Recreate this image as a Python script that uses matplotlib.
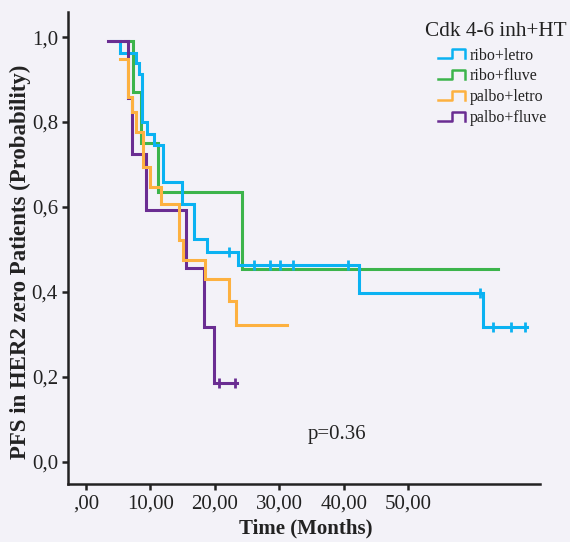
import matplotlib
matplotlib.use("Agg")
import matplotlib.pyplot as plt
from matplotlib.lines import Line2D
from matplotlib.legend_handler import HandlerBase

plt.rcParams['font.family'] = ['Liberation Serif', 'DejaVu Serif']

# ---------------- data ----------------
labels = ["ribo+letro", "ribo+fluve", "palbo+letro", "palbo+fluve"]
colors = ["#0AB2F2", "#3CB44B", "#FDB140", "#6A2D92"]

times_blue = [3.9, 5.27, 7.75, 8.22, 8.68, 9.50, 10.59, 11.98, 14.84, 16.74, 18.76, 23.52, 42.37, 61.5, 68.33]
surv_blue = [0.99, 0.963, 0.938, 0.912, 0.80, 0.772, 0.746, 0.659, 0.608, 0.524, 0.494, 0.463, 0.397, 0.318, 0.318]
censor_blue = [22.17, 26.05, 28.53, 30.08, 32.05, 40.67, 61.13, 63.15, 65.84, 68.06]

times_green = [6.05, 7.33, 8.48, 11.21, 24.19, 63.83]
surv_green = [0.99, 0.871, 0.750, 0.634, 0.453, 0.453]
censor_green = []

times_orange = [5.27, 6.47, 7.18, 7.75, 8.79, 9.92, 11.58, 14.42, 15.09, 18.45, 22.17, 23.26, 31.12]
surv_orange = [0.948, 0.859, 0.823, 0.777, 0.695, 0.646, 0.607, 0.522, 0.475, 0.430, 0.379, 0.323, 0.323]
censor_orange = []

times_purple = [3.46, 6.47, 7.09, 9.30, 15.50, 18.29, 19.89, 23.36]
surv_purple = [0.99, 0.856, 0.724, 0.593, 0.455, 0.318, 0.185, 0.185]
censor_purple = [20.67, 23.10]

x_ticks = [0, 10, 20, 30, 40, 50]
x_ticklabels = [",00", "10,00", "20,00", "30,00", "40,00", "50,00"]
y_ticks = [0.0, 0.2, 0.4, 0.6, 0.8, 1.0]
y_ticklabels = ["0,0", "0,2", "0,4", "0,6", "0,8", "1,0"]

series = [
    (times_blue, surv_blue, censor_blue),
    (times_green, surv_green, censor_green),
    (times_orange, surv_orange, censor_orange),
    (times_purple, surv_purple, censor_purple),
]
zorders = [3, 2, 5, 4]

# ---------------- figure ----------------
W, H = 570, 542
bg = "#F3F2F8"
fig = plt.figure(figsize=(W / 100, H / 100), dpi=100, facecolor=bg)
ax = fig.add_axes([68.3 / W, 1 - 484 / H, (540 - 68.3) / W, (484 - 12) / H], facecolor=bg)


def surv_at(times, surv, t):
    v = surv[0]
    for ti, si in zip(times, surv):
        if ti <= t:
            v = si
    return v


for (t, s, c), col, lab, z in zip(series, colors, labels, zorders):
    ax.plot(t, s, drawstyle="steps-post", color=col, lw=2.2, label=lab, zorder=z,
            solid_joinstyle="miter")
    if c:
        ax.plot(c, [surv_at(t, s, ci) for ci in c], linestyle="none", marker="|",
                ms=7.5, mew=2.0, color=col, zorder=z)

ax.set_xlim(-2.74, 70.4)
ax.set_ylim(-0.0525, 1.059)
ax.set_xticks(x_ticks)
ax.set_xticklabels(x_ticklabels)
ax.set_yticks(y_ticks)
ax.set_yticklabels(y_ticklabels)
ax.tick_params(axis="both", direction="out", length=4.5, width=1.8, labelsize=15,
               colors="#222222", pad=3)
for side in ["top", "right"]:
    ax.spines[side].set_visible(False)
for side in ["left", "bottom"]:
    ax.spines[side].set_linewidth(1.8)
    ax.spines[side].set_color("#222222")

fig.text(306 / W, 1 - 528 / H, "Time (Months)", ha="center", va="center",
         fontsize=15, fontweight="bold", color="#222222")
fig.text(20 / W, 1 - 262 / H, "PFS in HER2 zero Patients (Probability)", ha="center",
         va="center", rotation=90, fontsize=16.5, fontweight="bold", color="#222222")
fig.text(337 / W, 1 - 435 / H, "p=0.36", ha="center", va="center", fontsize=15,
         color="#222222")


class StepHandler(HandlerBase):
    def create_artists(self, legend, orig_handle, xdescent, ydescent, width, height,
                       fontsize, trans):
        x0, x1 = -xdescent, -xdescent + width
        xm = x0 + 0.5 * width
        ylo = -ydescent + 0.05 * height
        yhi = -ydescent + 0.95 * height
        ln = Line2D([x0, xm, xm, x1, x1], [ylo, ylo, yhi, yhi, ylo],
                    color=orig_handle.get_color(), lw=1.8, transform=trans)
        return [ln]


handles = [Line2D([], [], color=c) for c in colors]
fig.text(496 / W, 1 - 31 / H, "Cdk 4-6 inh+HT", ha="center", va="center", fontsize=15.3,
         color="#222222")
leg = fig.legend(handles, labels, loc="upper left", bbox_to_anchor=(438 / W, 1 - 47.5 / H),
                 frameon=False, fontsize=11.5, handlelength=1.7, handleheight=0.6,
                 handletextpad=0.28, labelspacing=0.3, borderpad=0, borderaxespad=0,
                 handler_map={Line2D: StepHandler()})
for txt in leg.get_texts():
    txt.set_color("#222222")

fig.savefig("out.png", dpi=100, facecolor=bg)
